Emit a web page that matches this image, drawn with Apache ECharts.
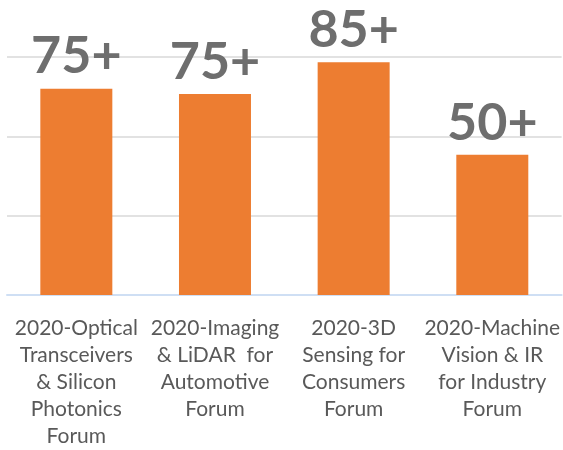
<!DOCTYPE html>
<html>
<head>
<meta charset="utf-8">
<script src="https://cdn.jsdelivr.net/npm/echarts@6/dist/echarts.min.js"></script>
<style>
html,body{margin:0;padding:0;background:#fff;}
#c{width:563px;height:450px;}
</style>
</head>
<body>
<div id="c"></div>
<script>
const categories = [
  "2020-Optical\nTransceivers\n& Silicon\nPhotonics\nForum",
  "2020-Imaging\n& LiDAR  for\nAutomotive\nForum",
  "2020-3D\nSensing for\nConsumers\nForum",
  "2020-Machine\nVision & IR\nfor Industry\nForum"
];
const values = [78, 76, 88, 53];
const barLabels = ["75+", "75+", "85+", "50+"];

const chart = echarts.init(document.getElementById('c'));
chart.setOption({
  animation: false,
  grid: { left: 7, right: 0, top: 57, bottom: 151, containLabel: false },
  xAxis: {
    type: 'category',
    data: categories,
    axisTick: { show: false },
    axisLine: { show: true, lineStyle: { color: '#cfdff4', width: 2 } },
    axisLabel: {
      interval: 0,
      margin: 20,
      color: '#595959',
      fontFamily: 'Lato',
      fontSize: 21,
      lineHeight: 27,
      align: 'center'
    }
  },
  yAxis: {
    type: 'value',
    min: 0,
    max: 90,
    interval: 30,
    axisLabel: { show: false },
    axisLine: { show: false },
    axisTick: { show: false },
    splitLine: { lineStyle: { color: '#d9d9d9', width: 1.5 } }
  },
  series: [{
    type: 'bar',
    data: values,
    barWidth: 72,
    itemStyle: { color: '#ED7D31' },
    label: {
      show: true,
      position: 'top',
      distance: 6,
      formatter: function (p) { return barLabels[p.dataIndex]; },
      color: '#6e6e6e',
      fontFamily: 'Lato',
      fontWeight: 'bold',
      fontSize: 52
    }
  }]
});
</script>
</body>
</html>
